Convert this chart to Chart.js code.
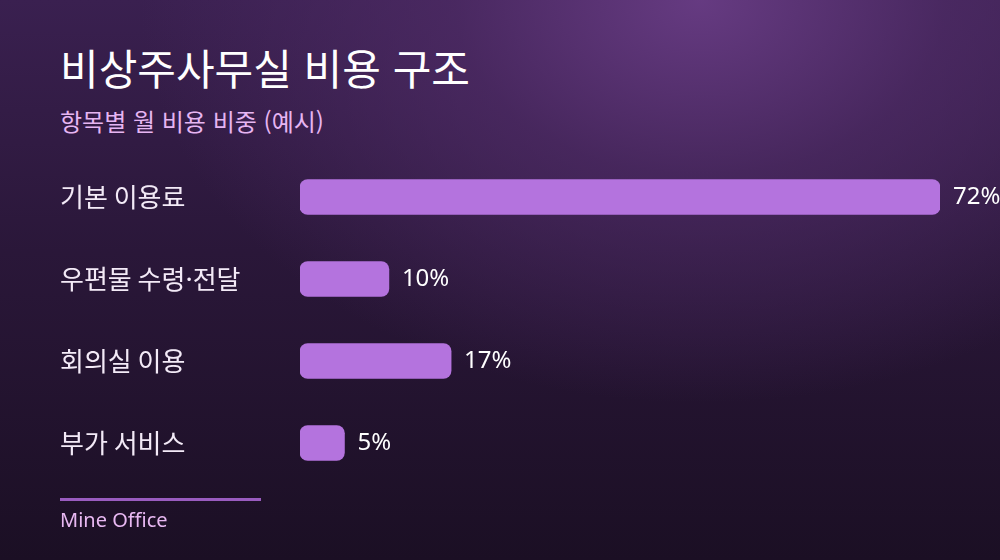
<!DOCTYPE html>
<html lang="ko">
<head>
<meta charset="utf-8">
<script src="https://cdn.jsdelivr.net/npm/chart.js@4.4.0/dist/chart.umd.min.js"></script>
<style>
  html, body { margin: 0; padding: 0; }
  body {
    width: 1000px; height: 560px; overflow: hidden; position: relative;
    font-family: "Noto Sans CJK KR", "Noto Sans", sans-serif;
    background:
      radial-gradient(ellipse 70% 90% at 70% 0%, rgba(104,60,132,0.95) 0%, rgba(80,44,104,0.7) 35%, rgba(40,22,54,0) 80%),
      linear-gradient(to bottom, #3a2050 0%, #2a1739 45%, #1b0f24 100%);
  }
  #title { position: absolute; left: 60px; top: 46px; font-size: 42px; font-weight: 400; color: #ffffff; line-height: 1; }
  #subtitle { position: absolute; left: 60px; top: 109px; font-size: 24px; color: #e6b5f2; line-height: 1; }
  #rule { position: absolute; left: 60px; top: 498px; width: 201px; height: 3px; background: #9a5cc0; }
  #source { position: absolute; left: 60px; top: 510px; font-size: 20px; color: #e8b8f2; line-height: 1; font-family: "Noto Sans", sans-serif; }
  #wrap { position: absolute; left: 0; top: 0; width: 1000px; height: 560px; }
</style>
</head>
<body>
<div id="title">비상주사무실 비용 구조</div>
<div id="subtitle">항목별 월 비용 비중 (예시)</div>
<div id="wrap"><canvas id="chart"></canvas></div>
<div id="rule"></div>
<div id="source">Mine Office</div>
<script>
const categories = ['기본 이용료', '우편물 수령·전달', '회의실 이용', '부가 서비스'];
const shares = [72, 10, 17, 5];
const valueLabels = ['72%', '10%', '17%', '5%'];

const valueLabelPlugin = {
  id: 'valueLabels',
  afterDatasetsDraw(chart) {
    const ctx = chart.ctx;
    const meta = chart.getDatasetMeta(0);
    ctx.save();
    ctx.font = '24px "Noto Sans", "Noto Sans CJK KR", sans-serif';
    ctx.fillStyle = '#ffffff';
    ctx.textAlign = 'left';
    ctx.textBaseline = 'middle';
    meta.data.forEach((bar, i) => {
      ctx.fillText(valueLabels[i], bar.x + 13, bar.y);
    });
    ctx.restore();
  }
};

new Chart(document.getElementById('chart'), {
  type: 'bar',
  data: {
    labels: categories,
    datasets: [{
      data: shares,
      backgroundColor: '#b473de',
      borderRadius: 8,
      borderSkipped: false,
      barThickness: 35
    }]
  },
  options: {
    indexAxis: 'y',
    responsive: true,
    maintainAspectRatio: false,
    animation: false,
    layout: { padding: { left: 60, right: 60, top: 156, bottom: 76 } },
    plugins: {
      legend: { display: false },
      tooltip: { enabled: false }
    },
    scales: {
      x: {
        min: 0,
        max: Math.max(...shares),
        display: false
      },
      y: {
        grid: { display: false },
        border: { display: false },
        afterFit: scale => { scale.width = 240; },
        ticks: {
          crossAlign: 'far',
          color: '#f3eaf7',
          font: { family: '"Noto Sans CJK KR", sans-serif', size: 26 }
        }
      }
    }
  },
  plugins: [valueLabelPlugin]
});
</script>
</body>
</html>
